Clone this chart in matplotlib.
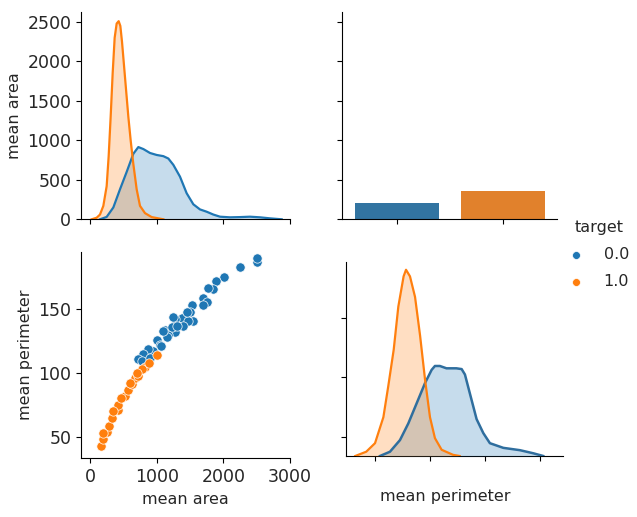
import numpy as np
import matplotlib
matplotlib.use('Agg')
import matplotlib.pyplot as plt

plt.rcParams['font.family'] = ['DejaVu Sans']
plt.rcParams['font.size'] = 11.5
plt.rcParams['xtick.labelsize'] = 12.5
plt.rcParams['ytick.labelsize'] = 12.5
plt.rcParams['text.color'] = '#262626'
plt.rcParams['axes.labelcolor'] = '#262626'
plt.rcParams['xtick.labelcolor'] = '#262626'
plt.rcParams['ytick.labelcolor'] = '#262626'

blue = '#1f77b4'
orange = '#ff7f0e'
bar_blue = '#3274a1'
bar_orange = '#e1812c'

# scatter: mean area vs mean perimeter, per target
area_0 = [2500, 2500, 2250, 2010, 1890, 1840, 1775, 1690, 1760, 1690, 1525, 1500, 1550, 1425,
          1375, 1475, 1400, 1450, 1275, 1275, 1125, 1000, 1050, 1175, 1225, 1300, 1250, 1150,
          1100, 1060, 950, 875, 800, 725, 780, 900]
perim_0 = [187, 190, 183, 175, 172, 166, 167, 159, 156, 153, 153, 148, 141, 143,
           143, 141, 137, 148, 142, 132, 134, 126, 122, 130, 136, 137, 144, 128,
           133, 121, 117, 119, 115, 111, 109, 112]
area_1 = [165, 200, 250, 285, 325, 415, 425, 525, 575, 625, 675, 725, 825, 1000, 780, 600,
          350, 190, 470, 700, 880]
perim_1 = [43, 48, 54, 58, 65, 71, 75, 82, 87, 91, 96, 98, 105, 114, 103, 92,
           70, 53, 80, 100, 108]

# diagonal kde of mean area (heights read in the mean area axis units)
kde_area_x0 = [150, 250, 350, 450, 550, 650, 725, 800, 900, 1000, 1100, 1175, 1250, 1350, 1450,
               1550, 1650, 1750, 1850, 1950, 2100, 2250, 2400, 2550, 2700, 2875]
kde_area_y0 = [0, 30, 150, 380, 600, 830, 915, 890, 840, 815, 800, 770, 690, 540, 330,
               190, 125, 96, 60, 33, 25, 28, 33, 25, 12, 0]
kde_area_x1 = [25, 100, 150, 200, 250, 280, 310, 340, 370, 400, 430, 455, 480, 510, 540, 575,
               610, 650, 700, 750, 825, 925, 1100]
kde_area_y1 = [0, 20, 60, 170, 420, 800, 1300, 1850, 2300, 2480, 2510, 2450, 2250, 1950, 1650, 1300,
               1000, 700, 380, 170, 78, 28, 0]

# diagonal kde of mean perimeter (density)
kde_per_x0 = [54.5, 63.6, 72.7, 80.3, 87.9, 95.5, 101.5, 104.5, 109, 115, 124, 128.8, 131.8, 136.4,
              142.4, 148.5, 154.5, 166.7, 181.8, 194, 203]
kde_per_y0 = [0, 0.0011, 0.0041, 0.0084, 0.0136, 0.0188, 0.0222, 0.0232, 0.0232, 0.0226, 0.0226,
              0.0224, 0.0210, 0.0160, 0.0095, 0.0059, 0.0033, 0.0021, 0.0015, 0.0007, 0]
kde_per_x1 = [32, 42, 50, 57.6, 62, 67, 71.2, 76, 78.2, 81.8, 86.4, 91, 95.5, 100, 104.5, 110.6,
              121, 127]
kde_per_y1 = [0, 0.0011, 0.0033, 0.010, 0.0179, 0.0274, 0.0385, 0.0463, 0.0480, 0.0463, 0.041,
              0.031, 0.0197, 0.010, 0.0046, 0.0016, 0.0003, 0]

# counts per target
targets = [0, 1]
counts = [212, 357]

W, H = 637, 517
fig = plt.figure(figsize=(W / 100, H / 100), dpi=100)

def box(l, r, t, b):
    return [l / W, (H - b) / H, (r - l) / W, (b - t) / H]

ax_tl = fig.add_axes(box(81, 290, 11.7, 219.3))
ax_tr = fig.add_axes(box(342, 557, 11.7, 219.3))
ax_bl = fig.add_axes(box(81, 290, 251.7, 458.3))
ax_br = fig.add_axes(box(346, 563, 262, 456))

for ax in (ax_tl, ax_tr, ax_bl, ax_br):
    ax.spines['top'].set_visible(False)
    ax.spines['right'].set_visible(False)

# top left: kde of mean area
ax_tl.fill_between(kde_area_x0, kde_area_y0, color=blue, alpha=0.25, lw=0)
ax_tl.plot(kde_area_x0, kde_area_y0, color=blue, lw=1.6)
ax_tl.fill_between(kde_area_x1, kde_area_y1, color=orange, alpha=0.25, lw=0)
ax_tl.plot(kde_area_x1, kde_area_y1, color=orange, lw=1.6)
ax_tl.set_xlim(-135, 3000)
ax_tl.set_ylim(0, 2630)
ax_tl.set_xticks([0, 1000, 2000, 3000])
ax_tl.set_xticklabels([])
ax_tl.set_yticks([0, 500, 1000, 1500, 2000, 2500])
ax_tl.set_ylabel('mean area')

# top right: counts
ax_tr.bar(targets[0], counts[0], width=0.8, color=bar_blue)
ax_tr.bar(targets[1], counts[1], width=0.8, color=bar_orange)
ax_tr.set_xlim(-0.52, 1.51)
ax_tr.set_ylim(0, 2630)
ax_tr.set_xticks(targets)
ax_tr.set_xticklabels([])
ax_tr.set_yticks([0, 500, 1000, 1500, 2000, 2500])
ax_tr.set_yticklabels([])

# bottom left: scatter
ax_bl.scatter(area_0, perim_0, s=45, color=blue, edgecolor='white', lw=0.5, label='0.0')
ax_bl.scatter(area_1, perim_1, s=45, color=orange, edgecolor='white', lw=0.5, label='1.0')
ax_bl.set_xlim(-135, 3000)
ax_bl.set_ylim(33, 195.2)
ax_bl.set_xticks([0, 1000, 2000, 3000])
ax_bl.set_yticks([50, 100, 150])
ax_bl.set_xlabel('mean area')
ax_bl.set_ylabel('mean perimeter')

# bottom right: kde of mean perimeter
ax_br.set_xlim(23.6, 221)
ax_br.set_ylim(34, 197)
ax_br.set_xticks([50, 100, 150, 200])
ax_br.set_xticklabels([])
ax_br.set_yticks([50, 100, 150])
ax_br.set_yticklabels([])
ax_br.set_xlabel('mean perimeter', labelpad=17)
ax_br.xaxis.set_label_coords(0.456, -0.17)
kax = ax_br.twinx()
kax.fill_between(kde_per_x0, kde_per_y0, color=blue, alpha=0.25, lw=0)
kax.plot(kde_per_x0, kde_per_y0, color='#2f6e9e', lw=1.8)
kax.fill_between(kde_per_x1, kde_per_y1, color=orange, alpha=0.25, lw=0)
kax.plot(kde_per_x1, kde_per_y1, color=orange, lw=1.6)
kax.set_ylim(0, 0.05)
kax.set_yticks([])
for s in kax.spines.values():
    s.set_visible(False)

h, l = ax_bl.get_legend_handles_labels()
fig.legend(h, l, title='target', loc='upper left', bbox_to_anchor=(570 / W, 1 - 220 / H),
           frameon=False, fontsize=11.5, title_fontsize=11.5, handlelength=0.8,
           handletextpad=1.3, markerscale=0.85, borderaxespad=0, borderpad=0,
           labelspacing=0.75)

fig.savefig('out.png', dpi=100)
